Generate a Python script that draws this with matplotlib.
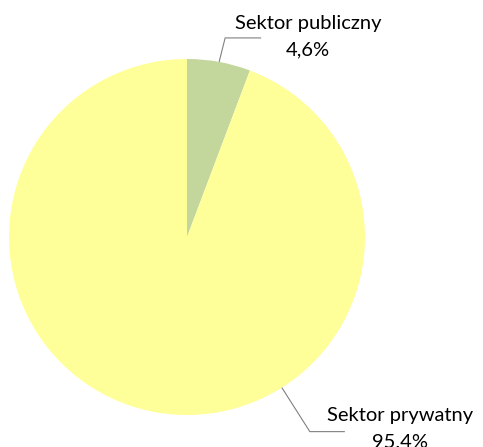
import numpy as np
import matplotlib
matplotlib.use("Agg")
import matplotlib.pyplot as plt

# Data
categories = ["Sektor publiczny", "Sektor prywatny"]
label_values = ["4,6%", "95.4%"]
shares = [5.75, 94.25]  # wedge sizes as drawn in the reference
colors = ["#C3D69B", "#FFFF99"]

W, H = 483, 447
fig = plt.figure(figsize=(W / 100, H / 100), dpi=100)
ax = fig.add_axes([0, 0, 1, 1])

cx, cy, R = 187, H - 237, 178
wedges, _ = ax.pie(shares, colors=colors, startangle=90, counterclock=False,
                   center=(cx, cy), radius=R, frame=True,
                   wedgeprops=dict(linewidth=0))
ax.set_xlim(0, W)
ax.set_ylim(0, H)
ax.set_aspect("equal")
ax.axis("off")

# Leader layout: anchor angle on circle, elbow offset, horizontal length, text pos
layout = [
    dict(angle=79.6, elbow=(6, 24), hlen=36, text=(308, H - 37)),
    dict(angle=-57.8, elbow=(28, -44), hlen=35, text=(400, H - 429)),
]
font = ["Lato", "DejaVu Sans"]
for cat, lab, lay in zip(categories, label_values, layout):
    a = np.deg2rad(lay["angle"])
    x0, y0 = cx + R * np.cos(a), cy + R * np.sin(a)
    x1, y1 = x0 + lay["elbow"][0], y0 + lay["elbow"][1]
    x2 = x1 + lay["hlen"]
    ax.plot([x0, x1, x2], [y0, y1, y1], color="#808080", lw=0.8,
            solid_capstyle="butt", clip_on=False)
    ax.text(lay["text"][0], lay["text"][1], f"{cat}\n{lab}", ha="center",
            va="center", fontsize=14.5, family=font, color="black",
            linespacing=1.65, multialignment="center")

fig.savefig("out.png", dpi=100)
